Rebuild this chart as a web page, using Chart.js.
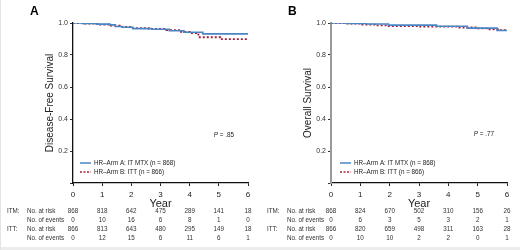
<!DOCTYPE html>
<html>
<head>
<meta charset="utf-8">
<script src="https://cdn.jsdelivr.net/npm/chart.js@4"></script>
<style>
  html, body { margin: 0; padding: 0; background: #fff; }
  #wrap { position: relative; width: 520px; height: 250px; overflow: hidden;
          border-left: 1px solid #e4e4e4; box-sizing: border-box; }
  #wrap:after { content: ''; position: absolute; left: 0; right: 0; bottom: 0; height: 3px; background: #ececec; }
  .panel { position: absolute; top: 0; width: 260px; height: 250px; }
</style>
</head>
<body>
<div id="wrap">
  <div class="panel" style="left:-1px"><canvas id="dfsChart" width="260" height="250"></canvas></div>
  <div class="panel" style="left:259px"><canvas id="osChart" width="260" height="250"></canvas></div>
</div>
<script>
// ===== 数据 =====
const years = [0, 1, 2, 3, 4, 5, 6];

// A: Disease-Free Survival
const dfsArmATime = [0, 0.3, 0.8, 1.27, 1.45, 1.7, 2.05, 2.7, 3.3, 3.8, 4.45, 6];
const dfsArmASurv = [1, 0.997, 0.993, 0.988, 0.978, 0.973, 0.965, 0.961, 0.952, 0.942, 0.932, 0.932];
const dfsArmBTime = [0, 0.4, 0.9, 1.3, 1.6, 2.0, 2.6, 3.2, 3.7, 4.0, 4.3, 5.05, 6];
const dfsArmBSurv = [1, 0.996, 0.99, 0.983, 0.976, 0.968, 0.963, 0.956, 0.945, 0.937, 0.911, 0.899, 0.899];

// B: Overall Survival
const osArmATime = [0, 0.6, 1.2, 1.96, 3.6, 4.64, 5.66, 6];
const osArmASurv = [1, 0.997, 0.994, 0.987, 0.98, 0.968, 0.953, 0.953];
const osArmBTime = [0, 0.5, 1.0, 1.5, 1.9, 3.0, 4.3, 5.0, 5.35, 5.7, 6];
const osArmBSurv = [1, 0.996, 0.99, 0.985, 0.98, 0.977, 0.972, 0.966, 0.96, 0.955, 0.955];

// 风险表
const dfsItmRisk = [868, 818, 642, 475, 289, 141, 18];
const dfsItmEvents = [0, 10, 16, 6, 8, 1, 0];
const dfsIttRisk = [866, 813, 643, 480, 295, 149, 18];
const dfsIttEvents = [0, 12, 15, 6, 11, 6, 1];
const osItmRisk = [868, 824, 670, 502, 310, 156, 26];
const osItmEvents = [0, 6, 3, 5, 3, 2, 1];
const osIttRisk = [866, 820, 659, 498, 311, 163, 28];
const osIttEvents = [0, 10, 10, 2, 2, 0, 1];

const legendA = 'HR\u2013Arm A: IT MTX (n = 868)';
const legendB = 'HR\u2013Arm B: ITT (n = 866)';

const BLUE = '#4a86c4';
const RED = '#a3203c';
const FONT = '"Liberation Sans", Arial, sans-serif';

const toPts = (t, s) => t.map((x, i) => ({ x, y: s[i] }));

// 风险表 + 图例 + P 值
function extrasPlugin(opts) {
  return {
    id: 'extras',
    afterDraw(chart) {
      const ctx = chart.ctx;
      const xs = chart.scales.x;
      ctx.save();
      // panel letter
      ctx.fillStyle = '#000';
      ctx.font = 'bold 12px ' + FONT;
      ctx.textBaseline = 'middle';
      ctx.textAlign = 'left';
      ctx.fillText(opts.letter, opts.letterX, 12);

      // legend
      ctx.font = '6.3px ' + FONT;
      ctx.fillStyle = '#222';
      ctx.lineWidth = 1.5;
      ctx.strokeStyle = BLUE;
      ctx.beginPath(); ctx.moveTo(80, 163); ctx.lineTo(91, 163); ctx.stroke();
      ctx.strokeStyle = RED;
      ctx.setLineDash([2, 1.5]);
      ctx.beginPath(); ctx.moveTo(80, 172); ctx.lineTo(91, 172); ctx.stroke();
      ctx.setLineDash([]);
      ctx.fillText(legendA, 94, 163);
      ctx.fillText(legendB, 94, 172);

      // P value
      ctx.textAlign = 'right';
      const rest = ' = ' + opts.p;
      ctx.font = '6.3px ' + FONT;
      const w = ctx.measureText(rest).width;
      ctx.fillText(rest, 234, opts.pY);
      ctx.font = 'italic 6.3px ' + FONT;
      ctx.fillText('P', 234 - w, opts.pY);

      // risk table
      ctx.font = '6.3px ' + FONT;
      ctx.fillStyle = '#333';
      const rowsY = [211, 220, 229, 238];
      ctx.textAlign = 'left';
      ctx.fillText('ITM:', 7, rowsY[0]);
      ctx.fillText('ITT:', 7, rowsY[2]);
      ctx.fillText('No. at risk', 27, rowsY[0]);
      ctx.fillText('No. of events', 27, rowsY[1]);
      ctx.fillText('No. at risk', 27, rowsY[2]);
      ctx.fillText('No. of events', 27, rowsY[3]);
      ctx.textAlign = 'center';
      opts.rows.forEach((row, r) => {
        row.forEach((v, i) => ctx.fillText(String(v), xs.getPixelForValue(years[i]), rowsY[r]));
      });
      ctx.restore();
    }
  };
}

function makeChart(id, cfg) {
  const ctx = document.getElementById(id).getContext('2d');
  return new Chart(ctx, {
    type: 'line',
    data: {
      datasets: [{
        label: legendA,
        data: toPts(cfg.aTime, cfg.aSurv),
        borderColor: BLUE,
        borderWidth: 1.6,
        stepped: true,
        pointRadius: 0,
        fill: false
      }, {
        label: legendB,
        data: toPts(cfg.bTime, cfg.bSurv),
        borderColor: RED,
        borderWidth: 1.8,
        borderDash: [2, 2],
        stepped: true,
        pointRadius: 0,
        fill: false
      }]
    },
    options: {
      responsive: false,
      animation: false,
      layout: { padding: { left: 0, right: cfg.padRight, top: 23, bottom: 39 } },
      plugins: { legend: { display: false }, tooltip: { enabled: false } },
      scales: {
        x: {
          type: 'linear', min: 0, max: 6,
          ticks: { stepSize: 1, font: { size: 8, family: FONT }, color: '#222', padding: 4, maxRotation: 0 },
          grid: { drawOnChartArea: false, tickLength: 3, color: '#222' },
          border: { color: '#111', width: 1.3 },
          title: { display: true, text: 'Year', font: { size: 11, family: '"Liberation Sans Narrow", ' + FONT }, color: '#222', padding: 0 },
          afterFit: s => { s.height = 28; }
        },
        y: {
          min: 0, max: 1,
          ticks: { stepSize: 0.2, font: { size: 7, family: FONT }, color: '#333', padding: 2,
                   callback: v => v === 0 ? '' : v.toFixed(1) },
          grid: { drawOnChartArea: false, tickLength: 3, color: '#333' },
          border: { color: cfg.yAxisColor, width: cfg.yAxisWidth },
          title: { display: true, text: cfg.yTitle, font: { size: 10, family: FONT }, color: '#222',
                   padding: { top: cfg.titleOffset, bottom: 0 } },
          afterFit: s => { s.width = cfg.yWidth; }
        }
      }
    },
    plugins: [extrasPlugin(cfg)]
  });
}

makeChart('dfsChart', {
  aTime: dfsArmATime, aSurv: dfsArmASurv, bTime: dfsArmBTime, bSurv: dfsArmBSurv,
  yTitle: 'Disease-Free Survival', yWidth: 73, padRight: 12, titleOffset: 44,
  yAxisColor: '#111', yAxisWidth: 1.3,
  letter: 'A', letterX: 30, p: '.85', pY: 135,
  rows: [dfsItmRisk, dfsItmEvents, dfsIttRisk, dfsIttEvents]
});

makeChart('osChart', {
  aTime: osArmATime, aSurv: osArmASurv, bTime: osArmBTime, bSurv: osArmBSurv,
  yTitle: 'Overall Survival', yWidth: 71, padRight: 13, titleOffset: 42,
  yAxisColor: '#999', yAxisWidth: 2,
  letter: 'B', letterX: 28, p: '.77', pY: 134,
  rows: [osItmRisk, osItmEvents, osIttRisk, osIttEvents]
});
</script>
</body>
</html>
